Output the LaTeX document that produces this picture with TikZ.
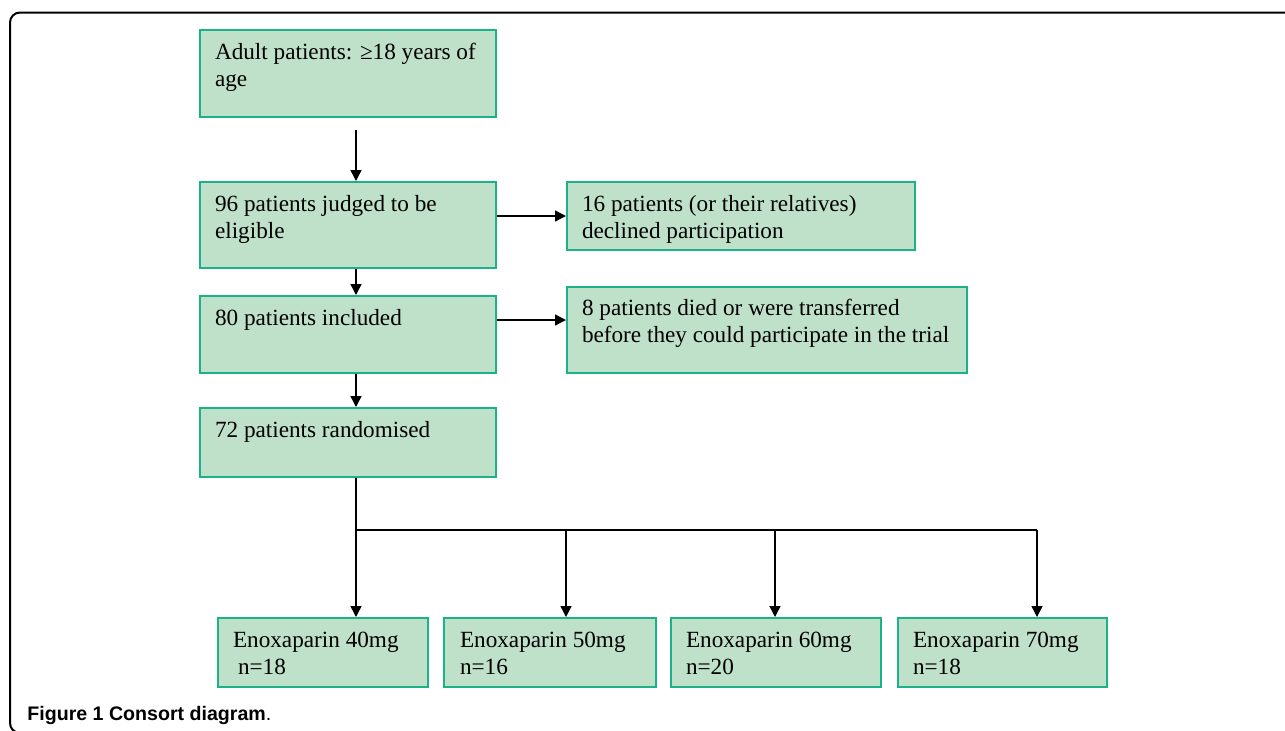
\documentclass[tikz,border=0pt]{standalone}
\usepackage{fontspec}
\setmainfont{Liberation Serif}
\newfontfamily\capfont{Liberation Sans}
\usetikzlibrary{arrows.meta,calc}
\newdimen\px \px=0.5pt
\definecolor{boxfill}{RGB}{191,224,201}
\definecolor{boxline}{RGB}{28,178,135}
\tikzset{
  box/.style={draw=boxline, fill=boxfill, line width=2\px, anchor=north west,
    inner xsep=15\px, inner ysep=0pt, text height=29\px, align=flush left,
    font=\fontsize{11.6}{13.5}\selectfont,
    execute at begin node={\spaceskip=0pt\xspaceskip=0pt\relax}},
  arr/.style={draw, line width=0.7pt, -{Triangle[length=5.5pt,width=5.5pt]}},
  bus/.style={draw, line width=0.7pt},
  frame/.style={draw, line width=1pt, rounded corners=5pt}
}
\begin{document}
\begin{tikzpicture}[x=0.5pt,y=-0.5pt]
\useasboundingbox (0,0) rectangle (1285,730);
\clip (0,0) rectangle (1285,730);
\fill[white] (0,0) rectangle (1285,730);
\draw[frame] (10,12.5) rectangle (1300,733);

\node[box, text width=266\px, text depth=58\px] (a) at (199,29) {Adult patients: ≥18 years of\\age};
\node[box, text width=266\px, text depth=57\px] (b) at (199,181) {96 patients judged to be\\eligible};
\node[box, text width=318\px, text depth=39\px] (c) at (566,181) {16 patients (or their relatives)\\declined participation};
\node[box, text width=266\px, text depth=48\px] (d) at (199,295) {80 patients included};
\node[box, text width=370\px, text height=28\px, text depth=58\px] (e) at (566,286) {8 patients died or were transferred\\before they could participate in the trial};
\node[box, text width=266\px, text depth=40\px] (f) at (199,407) {72 patients randomised};
\node[box, text width=180\px, text depth=40\px] (g1) at (217,617) {Enoxaparin 40mg\\\hspace*{5\px}n=18};
\node[box, text width=180\px, text depth=40\px, inner xsep=16\px] (g2) at (443,617) {Enoxaparin 50mg\\n=16};
\node[box, text width=180\px, text depth=40\px] (g3) at (670,617) {Enoxaparin 60mg\\n=20};
\node[box, text width=179\px, text depth=40\px] (g4) at (897,617) {Enoxaparin 70mg\\n=18};

\coordinate (spine) at (356,0);
\coordinate (j1) at (356,530);
\coordinate (j2) at (566,530);
\coordinate (j3) at (775,530);
\coordinate (j4) at (1037,530);

\draw[arr, shorten <=6pt] (a.south -| spine) -- (b.north -| spine);
\draw[arr] (b.south -| spine) -- (d.north -| spine);
\draw[arr] (d.south -| spine) -- (f.north -| spine);
\draw[arr] (b.east |- c.west) -- (c.west);
\draw[arr] ([yshift=-12.5pt]d.north east) -- ([yshift=-12.5pt]d.north east -| e.west);
\draw[bus] (f.south -| spine) -- (j1) -- (j4);
\draw[arr] (j1) -- (j1 |- g1.north);
\draw[arr] (j2) -- (j2 |- g2.north);
\draw[arr] (j3) -- (j3 |- g3.north);
\draw[arr] (j4) -- (j4 |- g4.north);

\node[anchor=base west, inner sep=0pt, font=\capfont\fontsize{9.8}{12}\selectfont] (cap) at (27,720) {\bfseries Figure 1 Consort diagram\mdseries.};
\end{tikzpicture}
\end{document}
